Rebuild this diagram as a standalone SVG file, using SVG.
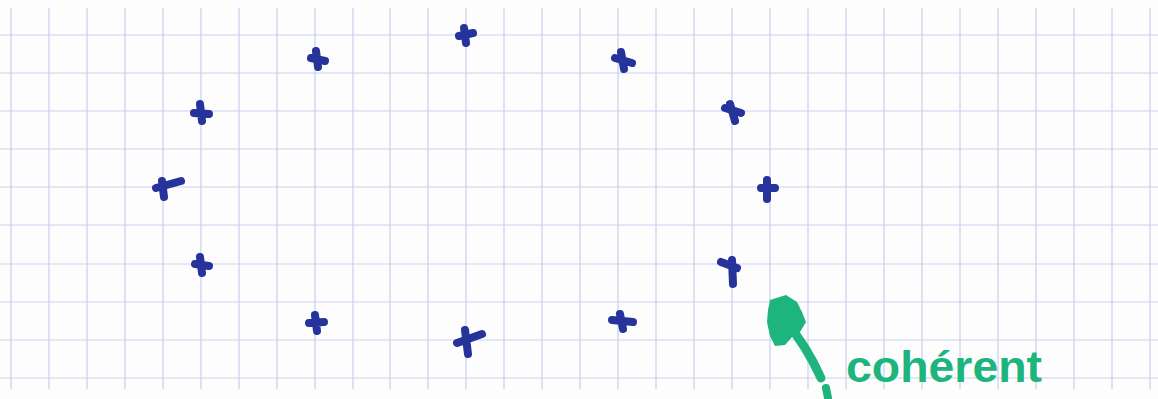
<svg xmlns="http://www.w3.org/2000/svg" width="1158" height="399" viewBox="0 0 1158 399">
  <style>
    .vl { stroke: #c7cff1; stroke-width: 1.2; }
    .hl { stroke: #cad1ef; stroke-width: 1.2; }
    .x { fill: none; stroke: #25339b; stroke-width: 8; stroke-linecap: round; stroke-linejoin: round; }
    .g { fill: none; stroke: #1db47d; stroke-linecap: round; stroke-linejoin: round; }
    .lbl { font-family: "Liberation Sans", Arial, sans-serif; font-weight: bold; font-size: 44px; fill: #1db47d; }
  </style>
  <rect width="1158" height="399" fill="#fdfdfd"/>
  <g id="grid">
    <g id="vertical-lines">
      <line class="vl" x1="11" y1="8" x2="11" y2="389"/>
      <line class="vl" x1="49" y1="8" x2="49" y2="389"/>
      <line class="vl" x1="87" y1="8" x2="87" y2="389"/>
      <line class="vl" x1="125" y1="8" x2="125" y2="389"/>
      <line class="vl" x1="163" y1="8" x2="163" y2="389"/>
      <line class="vl" x1="201" y1="8" x2="201" y2="389"/>
      <line class="vl" x1="239" y1="8" x2="239" y2="389"/>
      <line class="vl" x1="277" y1="8" x2="277" y2="389"/>
      <line class="vl" x1="315" y1="8" x2="315" y2="389"/>
      <line class="vl" x1="353" y1="8" x2="353" y2="389"/>
      <line class="vl" x1="390" y1="8" x2="390" y2="389"/>
      <line class="vl" x1="428" y1="8" x2="428" y2="389"/>
      <line class="vl" x1="466" y1="8" x2="466" y2="389"/>
      <line class="vl" x1="504" y1="8" x2="504" y2="389"/>
      <line class="vl" x1="542" y1="8" x2="542" y2="389"/>
      <line class="vl" x1="580" y1="8" x2="580" y2="389"/>
      <line class="vl" x1="618" y1="8" x2="618" y2="389"/>
      <line class="vl" x1="656" y1="8" x2="656" y2="389"/>
      <line class="vl" x1="694" y1="8" x2="694" y2="389"/>
      <line class="vl" x1="732" y1="8" x2="732" y2="389"/>
      <line class="vl" x1="770" y1="8" x2="770" y2="389"/>
      <line class="vl" x1="808" y1="8" x2="808" y2="389"/>
      <line class="vl" x1="846" y1="8" x2="846" y2="389"/>
      <line class="vl" x1="884" y1="8" x2="884" y2="389"/>
      <line class="vl" x1="922" y1="8" x2="922" y2="389"/>
      <line class="vl" x1="960" y1="8" x2="960" y2="389"/>
      <line class="vl" x1="998" y1="8" x2="998" y2="389"/>
      <line class="vl" x1="1036" y1="8" x2="1036" y2="389"/>
      <line class="vl" x1="1074" y1="8" x2="1074" y2="389"/>
      <line class="vl" x1="1112" y1="8" x2="1112" y2="389"/>
      <line class="vl" x1="1150" y1="8" x2="1150" y2="389"/>
    </g>
    <g id="horizontal-lines">
      <line class="hl" x1="0" y1="35" x2="1158" y2="35"/>
      <line class="hl" x1="0" y1="73" x2="1158" y2="73"/>
      <line class="hl" x1="0" y1="111" x2="1158" y2="111"/>
      <line class="hl" x1="0" y1="149" x2="1158" y2="149"/>
      <line class="hl" x1="0" y1="187" x2="1158" y2="187"/>
      <line class="hl" x1="0" y1="225" x2="1158" y2="225"/>
      <line class="hl" x1="0" y1="264" x2="1158" y2="264"/>
      <line class="hl" x1="0" y1="302" x2="1158" y2="302"/>
      <line class="hl" x1="0" y1="340" x2="1158" y2="340"/>
      <line class="hl" x1="0" y1="378" x2="1158" y2="378"/>
    </g>
  </g>
  <g id="crosses">
    <path id="c1" class="x" d="M464 28 L466 43 M459 36 L473 33"/>
    <path id="c2" class="x" d="M316 51 L318 67 M311 58 L325 61"/>
    <path id="c3" class="x" d="M621 52 L624 69 M615 58 L632 63"/>
    <path id="c4" class="x" d="M200 104 L202 121 M194 113 L209 114"/>
    <path id="c5" class="x" d="M730 104 L735 121 M725 108 L741 113"/>
    <path id="c6" class="x" d="M162 181 L164 197 M156 188 L181 181"/>
    <path id="c7" class="x" d="M767 180 L767 199 M761 188 L775 188"/>
    <path id="c8" class="x" d="M200 257 L202 273 M195 264 L209 266"/>
    <path id="c9" class="x" d="M732 260 L733 284 M721 262 L737 268"/>
    <path id="c10" class="x" d="M315 315 L317 331 M309 323 L324 322"/>
    <path id="c11" class="x" d="M620 314 L623 329 M612 320 L633 322"/>
    <path id="c12" class="x" d="M465 330 L468 354 M457 343 L482 334"/>
  </g>
  <g id="connectors">
    <path id="arrow-head" d="M770 300 L786 295 L797 302 L802 312 L806 322 L800 332 L792 337 L785 345 L775 346 L770 336 L767 322 L768 310 Z" fill="#1db47d"/>
    <path id="arrow-shaft" class="g" stroke-width="9" d="M786 322 Q806 345 821 378"/>
    <path id="arrow-stub" class="g" stroke-width="8" d="M826 388 L828 398"/>
  </g>
  <g id="label">
    <text class="lbl" x="846" y="382" textLength="196" lengthAdjust="spacingAndGlyphs">cohérent</text>
  </g>
</svg>
